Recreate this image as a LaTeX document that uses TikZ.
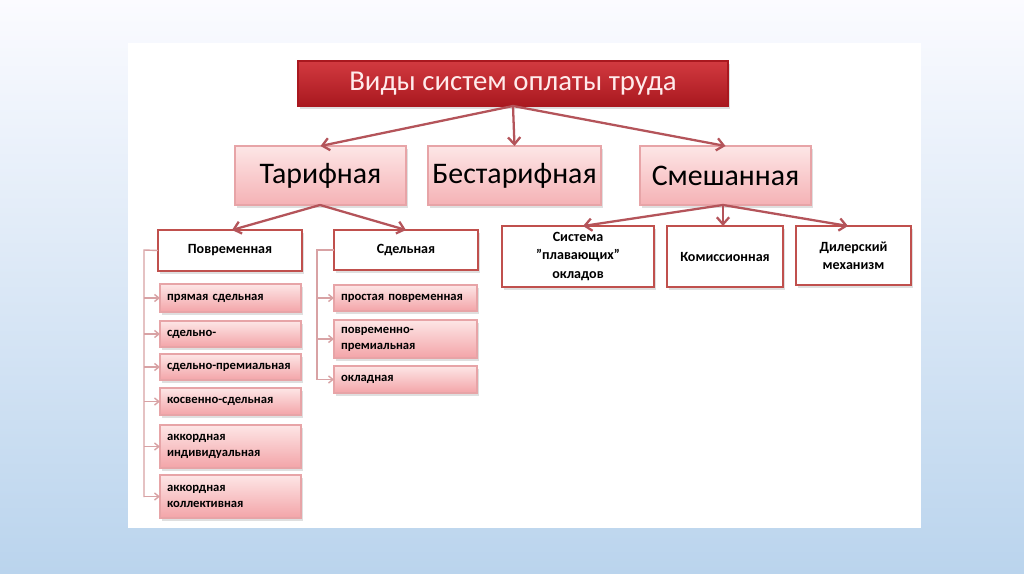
\documentclass[tikz,border=0pt]{standalone}
\usepackage{fontspec}
\setmainfont{Carlito}
\usetikzlibrary{arrows.meta,shadows}
\definecolor{arrc}{HTML}{B4545A}
\definecolor{lightarr}{HTML}{D8A2A4}
\definecolor{wborder}{HTML}{C0504D}
\definecolor{pborder}{HTML}{E7A4A7}
\definecolor{ptop}{HTML}{FDE6E6}
\definecolor{pbot}{HTML}{F3A4A8}
\definecolor{ttop}{HTML}{D23A40}
\definecolor{tbot}{HTML}{A9181F}
\newcommand\bxn[7]{\node[#1, minimum width={(#5-#3)*0.02cm}, minimum height={(#6-#4)*0.02cm}] (#2) at ({(#3+#5)/2},{(#4+#6)/2}) {#7};}
\newcommand\lbx[7]{\node[#1, minimum width={(#5-#3)*0.02cm}, minimum height={(#6-#4)*0.02cm}, text width={(#5-#3-14)*0.02cm}] (#2) at ({(#3+#5)/2},{(#4+#6)/2}) {#7};}
\begin{document}
\begin{tikzpicture}[x=0.02cm,y=-0.02cm,
  every node/.style={inner sep=0pt, outer sep=0pt},
  shad/.style={drop shadow={opacity=0.25, shadow xshift=1pt, shadow yshift=-1.5pt}},
  titlebox/.style={shad, draw=tbot, line width=0.6pt, top color=ttop, bottom color=tbot, text=white!92!red, font=\fontsize{16.4}{19}\selectfont},
  midbox/.style={shad, draw=pborder, line width=0.8pt, top color=ptop, bottom color=pbot!85!white, font=\fontsize{17}{20}\selectfont, align=center},
  wbox/.style={shad, draw=wborder, line width=1.3pt, fill=white, font=\bfseries\fontsize{8}{10.4}\selectfont, align=center},
  item/.style={shad, draw=pborder, line width=0.6pt, top color=ptop, bottom color=pbot, font=\bfseries\fontsize{7.2}{9}\selectfont, align=left, inner xsep=0.14cm},
  arr/.style={draw=arrc, line width=1.3pt, -{Straight Barb[length=4pt,width=7pt]}},
  brk/.style={draw=lightarr, line width=0.8pt},
  sarr/.style={draw=lightarr, line width=0.8pt, -{Straight Barb[length=2.5pt,width=4pt]}}
]
% background
\shade[top color=white!96!blue!40, bottom color={rgb,255:red,186;green,212;blue,237}] (0,0) rectangle (1024,574);
\fill[white] (128,43) rectangle (921,528);
\useasboundingbox (0,0) rectangle (1024,574);

% title
\bxn{titlebox}{title}{298}{61}{728}{106}{Виды систем оплаты труда}
% level 2
\bxn{midbox}{tarif}{235}{146}{406}{205}{Тарифная}
\bxn{midbox}{bestarif}{428}{146}{601}{205}{Бестарифная}
\bxn{midbox}{smesh}{640}{146}{811}{205}{Смешанная}
% level 3
\bxn{wbox}{povr}{158}{230}{302}{271}{Повременная}
\bxn{wbox}{sdel}{334}{230}{478}{270}{Сдельная}
\bxn{wbox}{plav}{502}{226}{654}{287}{Система\\\symbol{34}плавающих\symbol{34}\\окладов}
\bxn{wbox}{komis}{667}{226}{783}{287}{Комиссионная}
\bxn{wbox}{diler}{796}{226}{911}{285}{Дилерский\\механизм}

% left list
\lbx{item}{l1}{160}{284}{301}{312}{прямая сдельная}
\lbx{item}{l2}{160}{321}{301}{347}{сдельно-}
\lbx{item}{l3}{160}{354}{301}{380}{сдельно-премиальная}
\lbx{item}{l4}{160}{388}{301}{415}{косвенно-сдельная}
\lbx{item}{l5}{160}{425}{301}{468}{аккордная\\индивидуальная}
\lbx{item}{l6}{160}{475}{301}{518}{аккордная\\коллективная}
% right list
\lbx{item}{r1}{334}{285}{477}{311}{простая повременная}
\lbx{item}{r2}{334}{320}{477}{358}{повременно-\\премиальная}
\lbx{item}{r3}{334}{366}{477}{393}{окладная}

% arrows
\coordinate (ts) at (513,106);
\draw[arr] (ts) -- (tarif.north);
\draw[arr] (ts) -- (bestarif.north);
\draw[arr] (ts) -- (smesh.north);
\coordinate (tb) at (320,205);
\draw[arr] (tb) -- (232,230);
\draw[arr] (tb) -- (406,230);
\coordinate (sb) at (723,205);
\draw[arr] (sb) -- (583,226);
\draw[arr] (sb) -- (723,226);
\draw[arr] (sb) -- (848,226);

% brackets
\coordinate (lb) at (144,250);
\draw[brk] (povr.west) -- (lb) -- (144,497);
\foreach \n in {l1,l2,l3,l4,l5,l6}{
  \draw[sarr] (\n.west -| lb) -- (\n.west);
}
\coordinate (rb) at (317,250);
\draw[brk] (sdel.west) -- (rb) -- (317,380);
\foreach \n in {r1,r2,r3}{
  \draw[sarr] (\n.west -| rb) -- (\n.west);
}
\end{tikzpicture}
\end{document}
